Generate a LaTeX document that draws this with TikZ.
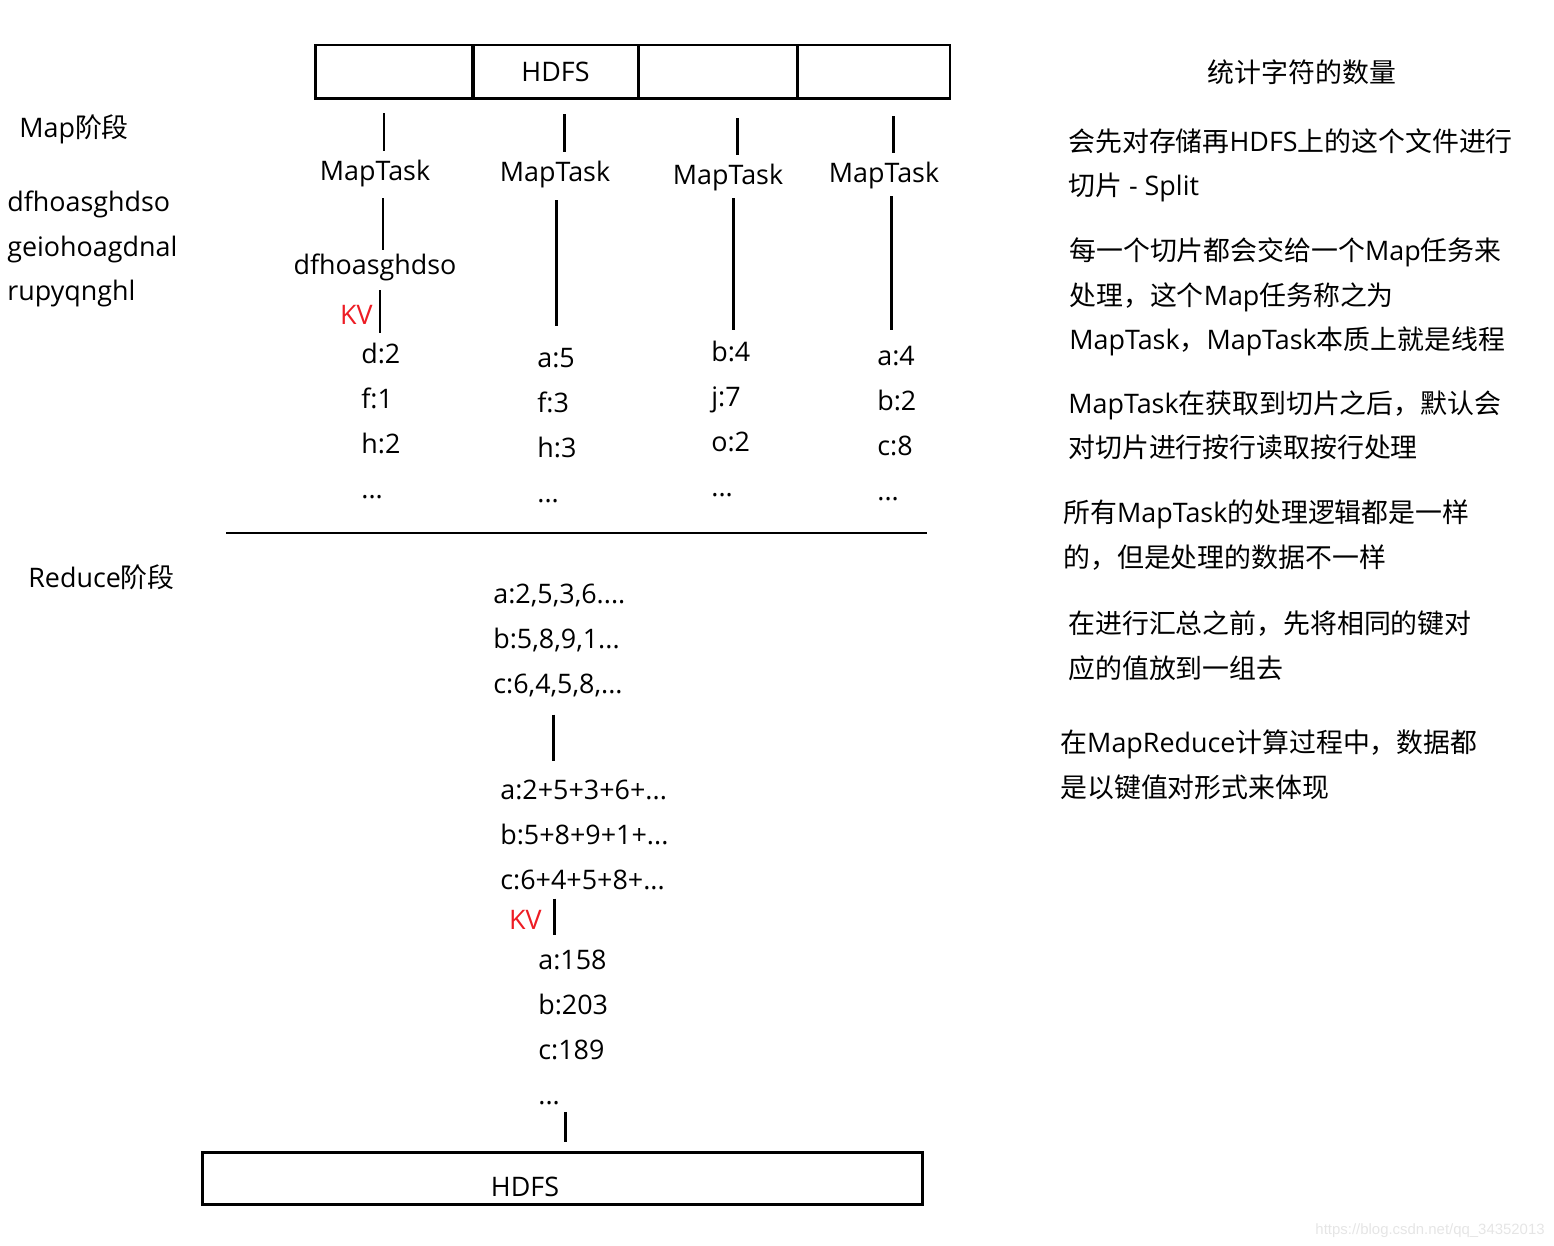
\documentclass[tikz,border=0pt]{standalone}
\usepackage{fontspec}
\setmainfont{Open Sans}
\newfontfamily\zh{Noto Sans CJK SC}
\newfontfamily\wmfont{Liberation Sans}
\usepackage{tikz}
\definecolor{kvred}{RGB}{237,28,36}

\begin{document}
\begin{tikzpicture}[x=0.02cm, y=-0.02cm,
        every node/.style={font=\fontsize{15.3pt}{25.5pt}\selectfont},
        lbl/.style={inner sep=0pt, text height=0.72em, text depth=0pt, anchor=base},
        list/.style={inner sep=0pt, align=left, anchor=base west},
        cell/.style={draw, line width=1.7pt, inner sep=0pt, minimum height=1.08cm},
        link/.style={line width=1.7pt}
    ]
        \useasboundingbox (0,0) rectangle (1554,1246);

        % HDFS blocks on top
        \node [cell, minimum width=3.16cm] (c1) at (394,72) {};
        \node [cell, minimum width=3.30cm] (c2) at (555.5,72) {HDFS};
        \node [cell, minimum width=3.18cm] (c3) at (717.5,72) {};
        \node [cell, minimum width=3.06cm] (c4) at (873.5,72) {};

        % map side (a list node sits on the baseline of its last line)
        \node [list] (maplbl) at (19,138) {Map{\zh 阶段}};
        \node [list] (input) at (7,301) {dfhoasghdso\\geiohoagdnal\\rupyqnghl};

        \node [lbl] (t1) at (375,181) {MapTask};
        \node [lbl] (t2) at (555,182) {MapTask};
        \node [lbl] (t3) at (728,185) {MapTask};
        \node [lbl] (t4) at (884,183) {MapTask};

        \node [lbl] (w1) at (375,275) {dfhoasghdso};
        \node [lbl, anchor=base east, text=kvred] (kv1) at (373,325) {KV};

        \node [list] (k1) at (361,498) {d:2\\f:1\\h:2\\...};
        \node [list] (k2) at (537,502) {a:5\\f:3\\h:3\\...};
        \node [list] (k3) at (711,496) {b:4\\j:7\\o:2\\...};
        \node [list] (k4) at (877,500) {a:4\\b:2\\c:8\\...};

        \draw [link, shorten <=7.4pt, shorten >=9.4pt] (384,0 |- c1.south) -- (384,0 |- t1.north);
        \draw [link, shorten <=7.9pt, shorten >=9.4pt] (564,0 |- c2.south) -- (564,0 |- t2.north);
        \draw [link, shorten <=10.2pt, shorten >=9.4pt] (737,0 |- c3.south) -- (737,0 |- t3.north);
        \draw [link, shorten <=9.1pt, shorten >=9.4pt] (893,0 |- c4.south) -- (893,0 |- t4.north);

        \draw [link, shorten <=9.6pt, shorten >=7.1pt] (383,0 |- t1.south) -- (383,0 |- w1.north);
        \draw [link, shorten <=8.5pt, shorten >=5.4pt] (380,0 |- w1.south) -- (380,0 |- k1.north);
        \draw [link, shorten <=10.2pt, shorten >=12.3pt] (556,0 |- t2.south) -- (556,0 |- k2.north);
        \draw [link, shorten <=7.4pt, shorten >=6pt] (733,0 |- t3.south) -- (733,0 |- k3.north);
        \draw [link, shorten <=7.4pt, shorten >=8.9pt] (891,0 |- t4.south) -- (891,0 |- k4.north);

        \draw [link] (226,533) -- (927,533);

        % reduce side
        \node [list] (redlbl) at (28,587) {Reduce{\zh 阶段}};
        \node [list] (r1) at (493,693) {a:2,5,3,6....\\b:5,8,9,1...\\c:6,4,5,8,...};
        \node [list] (r2) at (500,889) {a:2+5+3+6+...\\b:5+8+9+1+...\\c:6+4+5+8+...};
        \node [lbl, anchor=base east, text=kvred] (kv2) at (542,929) {KV};
        \node [list] (r3) at (538,1104) {a:158\\b:203\\c:189\\...};

        \node [draw, line width=1.7pt, inner sep=0pt, minimum width=14.42cm, minimum height=1.04cm] (sink) at (562.5,1178) {};
        \node [lbl] (sinklbl) at (525,1196) {HDFS};

        \draw [link, shorten <=10.2pt, shorten >=10.6pt] (553,0 |- r1.south) -- (553,0 |- r2.north);
        \draw [link, shorten <=5.1pt, shorten >=8.3pt] (554,0 |- r2.south) -- (554,0 |- r3.north);
        \draw [link, shorten <=4pt, shorten >=5.1pt] (565,0 |- r3.south) -- (565,0 |- sink.north);

        % notes on the right
        \node [lbl] (title) at (1302,83) {\zh 统计字符的数量};
        \node [list] (p1) at (1068,196) {{\zh 会先对存储再}HDFS{\zh 上的这个文件进行}\\{\zh 切片} - Split};
        \node [list] (p2) at (1069,350) {{\zh 每一个切片都会交给一个}Map{\zh 任务来}\\{\zh 处理，这个}Map{\zh 任务称之为}\\MapTask{\zh ，}MapTask{\zh 本质上就是线程}};
        \node [list] (p3) at (1068,458) {MapTask{\zh 在获取到切片之后，默认会}\\{\zh 对切片进行按行读取按行处理}};
        \node [list] (p4) at (1063,567) {{\zh 所有}MapTask{\zh 的处理逻辑都是一样}\\{\zh 的，但是处理的数据不一样}};
        \node [list] (p5) at (1068,678) {{\zh 在进行汇总之前，先将相同的键对}\\{\zh 应的值放到一组去}};
        \node [list] (p6) at (1060,797) {{\zh 在}MapReduce{\zh 计算过程中，数据都}\\{\zh 是以键值对形式来体现}};

        \node [anchor=base east, inner sep=0pt, text=black!10, font=\wmfont\fontsize{8.5pt}{10pt}\selectfont] (mark) at (1545,1234) {https://blog.csdn.net/qq\_34352013};
    \end{tikzpicture}
\end{document}
